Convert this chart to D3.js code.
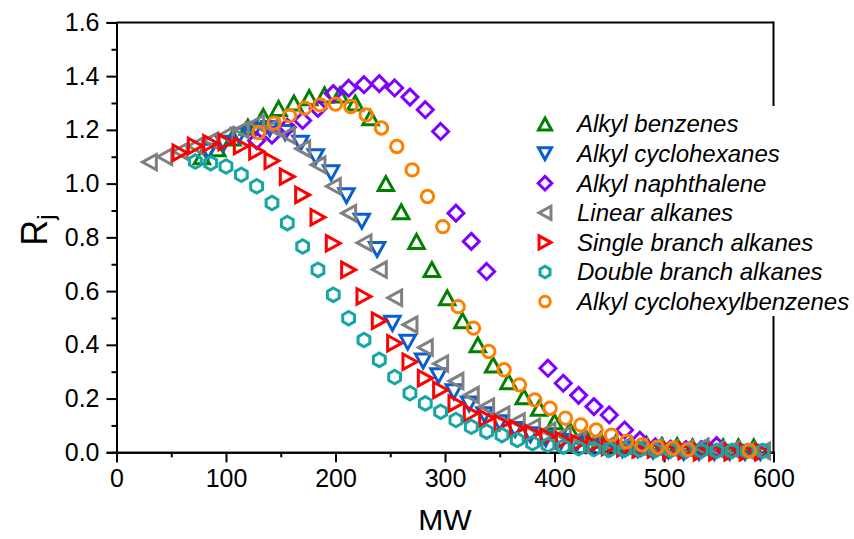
<!DOCTYPE html>
<html>
<head>
<meta charset="utf-8">
<script src="https://cdn.jsdelivr.net/npm/d3@7"></script>
<style>
  body { margin: 0; background: #fff; }
  svg { font-family: "Liberation Sans", Arial, sans-serif; }
</style>
</head>
<body>
<div id="chart"></div>
<script>
// data: MW and Rj for each series
var benzMW = [78, 92, 106, 120, 134, 148, 162, 176, 190, 204, 218, 232, 246, 260, 274, 288, 302, 316, 330, 344, 358, 372, 386, 400, 414, 428, 442, 456, 470, 484, 498, 512, 526, 540, 554, 568, 582];
var benzR = [1.10, 1.13, 1.17, 1.21, 1.25, 1.28, 1.30, 1.32, 1.33, 1.33, 1.30, 1.245, 1.00, 0.895, 0.785, 0.68, 0.575, 0.49, 0.40, 0.325, 0.263, 0.207, 0.164, 0.114, 0.083, 0.06, 0.045, 0.035, 0.03, 0.03, 0.025, 0.025, 0.02, 0.02, 0.02, 0.02, 0.02];

var cyhxMW = [84, 98, 112, 126, 140, 154, 168, 182, 196, 210, 224, 238, 252, 266, 280, 294, 308, 322, 336, 350, 364, 378, 392, 406, 420, 434, 448, 462, 476, 490, 504, 518, 532, 546, 560, 574, 588];
var cyhxR = [1.12, 1.15, 1.18, 1.20, 1.205, 1.19, 1.15, 1.10, 1.04, 0.955, 0.86, 0.755, 0.48, 0.41, 0.34, 0.285, 0.225, 0.18, 0.14, 0.11, 0.085, 0.065, 0.05, 0.04, 0.03, 0.02, 0.015, 0.01, 0.01, 0.005, 0.005, 0, 0, 0, 0, 0, 0];

var naphMW = [128, 142, 156, 170, 184, 198, 212, 226, 240, 254, 268, 282, 296, 310, 324, 338, 394, 408, 422, 436, 450, 464, 478, 492, 506, 520, 534, 548];
var naphR = [1.16, 1.18, 1.21, 1.235, 1.28, 1.335, 1.355, 1.368, 1.372, 1.356, 1.322, 1.275, 1.194, 0.89, 0.785, 0.673, 0.313, 0.257, 0.212, 0.17, 0.139, 0.083, 0.045, 0.02, 0.012, 0.01, 0.01, 0.025];

var linMW = [30, 44, 58, 72, 86, 100, 114, 128, 142, 156, 170, 184, 198, 212, 226, 240, 254, 268, 282, 296, 310, 324, 338, 352, 366, 380, 394, 408, 422, 436, 450, 464, 478, 492, 506, 520, 534, 548, 562, 576, 590];
var linR = [1.08, 1.10, 1.12, 1.14, 1.16, 1.18, 1.20, 1.225, 1.21, 1.18, 1.13, 1.07, 0.99, 0.89, 0.78, 0.68, 0.575, 0.475, 0.39, 0.33, 0.265, 0.213, 0.17, 0.14, 0.115, 0.095, 0.08, 0.065, 0.05, 0.04, 0.03, 0.025, 0.02, 0.02, 0.015, 0.015, 0.02, 0.01, 0.01, 0.005, 0.005];

var sbrMW = [58, 72, 86, 100, 114, 128, 142, 156, 170, 184, 198, 212, 226, 240, 254, 268, 282, 296, 310, 324, 338, 352, 366, 380, 394, 408, 422, 436, 450, 464, 478, 492, 506, 520, 534, 548, 562, 576, 590];
var sbrR = [1.115, 1.14, 1.15, 1.155, 1.14, 1.12, 1.085, 1.026, 0.958, 0.875, 0.778, 0.679, 0.58, 0.49, 0.406, 0.337, 0.276, 0.232, 0.182, 0.145, 0.127, 0.108, 0.089, 0.071, 0.058, 0.045, 0.035, 0.028, 0.02, 0.015, 0.01, 0.01, 0.005, 0.005, 0, 0, 0, 0, 0];

var dbrMW = [72, 86, 100, 114, 128, 142, 156, 170, 184, 198, 212, 226, 240, 254, 268, 282, 296, 310, 324, 338, 352, 366, 380, 394, 408, 422, 436, 450, 464, 478, 492, 506, 520, 534, 548, 562, 576, 590];
var dbrR = [1.082, 1.076, 1.064, 1.033, 0.99, 0.928, 0.853, 0.766, 0.679, 0.586, 0.499, 0.418, 0.344, 0.28, 0.22, 0.182, 0.151, 0.12, 0.095, 0.077, 0.064, 0.046, 0.034, 0.027, 0.021, 0.015, 0.012, 0.01, 0.01, 0.01, 0.008, 0.008, 0.006, 0.006, 0.005, 0.005, 0.005, 0.005];

var chbMW = [130, 144, 158, 172, 186, 200, 214, 228, 242, 256, 270, 284, 298, 312, 326, 340, 354, 368, 382, 396, 410, 424, 438, 452, 466, 480, 494, 508, 522, 578];
var chbR = [1.19, 1.225, 1.253, 1.281, 1.293, 1.296, 1.287, 1.256, 1.207, 1.138, 1.051, 0.952, 0.84, 0.542, 0.462, 0.375, 0.307, 0.251, 0.195, 0.164, 0.127, 0.102, 0.083, 0.064, 0.04, 0.027, 0.019, 0.015, 0.011, 0.006];

var seriesNames = ["Alkyl benzenes", "Alkyl cyclohexanes", "Alkyl naphthalene", "Linear alkanes",
  "Single branch alkanes", "Double branch alkanes", "Alkyl cyclohexylbenzenes"];
var seriesColors = ["#008000", "#0a5fcc", "#8000ff", "#808080", "#ff0000", "#16a6a6", "#ff8000"];
var seriesShapes = ["up", "down", "diamond", "left", "right", "hexagon", "circle"];

var xTicks = [0, 100, 200, 300, 400, 500, 600];
var yTicks = [0, 0.2, 0.4, 0.6, 0.8, 1.0, 1.2, 1.4, 1.6];

var series = [
  [benzMW, benzR], [cyhxMW, cyhxR], [naphMW, naphR], [linMW, linR],
  [sbrMW, sbrR], [dbrMW, dbrR], [chbMW, chbR]
].map(function(s, i) {
  return {
    name: seriesNames[i], color: seriesColors[i], shape: seriesShapes[i],
    points: s[0].map(function(m, j) { return { mw: m, r: s[1][j] }; })
  };
});

var svgWidth = 854;
var svgHeight = 539;
var margin = { top: 22.4, right: 80.5, bottom: 86.7, left: 116.5 };
var width = svgWidth - margin.left - margin.right;
var height = svgHeight - margin.top - margin.bottom;

var svg = d3.select("#chart").append("svg")
  .attr("width", svgWidth)
  .attr("height", svgHeight);

var chartGroup = svg.append("g")
  .attr("transform", `translate(${margin.left}, ${margin.top})`);

var xScale = d3.scaleLinear().domain([0, 600]).range([0, width]);
var yScale = d3.scaleLinear().domain([0, 1.6]).range([height, 0]);

// marker path centred on its bounding box, r = half size
function shapePath(shape, r) {
  if (shape === "circle") {
    var p = d3.path();
    p.arc(0, 0, r, 0, Math.PI * 2);
    p.closePath();
    return p.toString();
  }
  if (shape === "up") {
    return `M0,${-r}L${r * 1.1},${r}L${-r * 1.1},${r}Z`;
  }
  if (shape === "down") {
    return `M0,${r}L${r * 1.1},${-r}L${-r * 1.1},${-r}Z`;
  }
  if (shape === "left") {
    return `M${-r},0L${r},${-r * 1.1}L${r},${r * 1.1}Z`;
  }
  if (shape === "right") {
    return `M${r},0L${-r},${-r * 1.1}L${-r},${r * 1.1}Z`;
  }
  if (shape === "diamond") {
    return `M0,${-r}L${r},0L0,${r}L${-r},0Z`;
  }
  // hexagon, pointy top
  var pts = d3.range(6).map(function(k) {
    var a = Math.PI / 3 * k - Math.PI / 2;
    return [r * Math.cos(a), r * Math.sin(a)];
  });
  return "M" + pts.map(function(q) { return q.join(","); }).join("L") + "Z";
}
var shapeSize = { up: 7, down: 7, left: 7, right: 7, diamond: 8, hexagon: 6.8, circle: 6.2 };

// axes
var bottomAxis = d3.axisBottom(xScale).tickValues(xTicks).tickSize(10).tickPadding(7);
var bottomMinor = d3.axisBottom(xScale).tickValues(d3.range(50, 600, 100)).tickSize(5).tickFormat("");
var leftAxis = d3.axisLeft(yScale).tickValues(yTicks).tickSize(10).tickPadding(7).tickFormat(d3.format(".1f"));
var leftMinor = d3.axisLeft(yScale).tickValues(d3.range(0.1, 1.6, 0.2)).tickSize(5).tickFormat("");

[bottomMinor, bottomAxis].forEach(function(ax) {
  chartGroup.append("g")
    .attr("class", "axis")
    .attr("transform", `translate(0, ${height})`)
    .call(ax);
});
[leftMinor, leftAxis].forEach(function(ax) {
  chartGroup.append("g")
    .attr("class", "axis")
    .call(ax);
});

chartGroup.selectAll(".axis path.domain").attr("stroke", "#000").attr("stroke-width", 2);
chartGroup.selectAll(".axis line").attr("stroke", "#000").attr("stroke-width", 2);
chartGroup.selectAll(".axis text")
  .attr("fill", "#000")
  .style("font-size", "25px");

// frame top & right
chartGroup.append("line")
  .attr("x1", 0).attr("x2", width).attr("y1", 0).attr("y2", 0)
  .attr("stroke", "#000").attr("stroke-width", 2);
chartGroup.append("line")
  .attr("x1", width).attr("x2", width).attr("y1", -1).attr("y2", height)
  .attr("stroke", "#000").attr("stroke-width", 2);

// points, drawn in legend order
series.forEach(function(s) {
  chartGroup.append("g")
    .selectAll("path")
    .data(s.points)
    .enter()
    .append("path")
    .attr("d", shapePath(s.shape, shapeSize[s.shape]))
    .attr("transform", d => `translate(${xScale(d.mw)}, ${yScale(d.r)})`)
    .attr("fill", "none")
    .attr("stroke", s.color)
    .attr("stroke-width", 3);
});

// legend (white box hides the right frame)
var legend = svg.append("g");
legend.append("rect")
  .attr("x", 526).attr("y", 106)
  .attr("width", 328).attr("height", 210)
  .attr("fill", "#fff");

var legendRows = legend.selectAll("g.row")
  .data(series)
  .enter()
  .append("g")
  .attr("class", "row")
  .attr("transform", (d, i) => `translate(545, ${124 + i * 29.6})`);

legendRows.append("path")
  .attr("d", d => shapePath(d.shape, shapeSize[d.shape] * 0.85))
  .attr("fill", "none")
  .attr("stroke", d => d.color)
  .attr("stroke-width", 3);

legendRows.append("text")
  .attr("x", 32)
  .attr("dy", "0.35em")
  .style("font-size", "24px")
  .style("font-style", "italic")
  .text(d => d.name);

// axis titles
svg.append("text")
  .attr("x", margin.left + width / 2)
  .attr("y", 530)
  .attr("text-anchor", "middle")
  .style("font-size", "30px")
  .text("MW");

var yTitle = svg.append("text")
  .attr("transform", "translate(47, 230) rotate(-90)")
  .attr("text-anchor", "middle")
  .style("font-size", "36px");
yTitle.append("tspan").text("R");
yTitle.append("tspan")
  .attr("dy", "0.3em")
  .style("font-size", "24px")
  .text("j");
</script>
</body>
</html>
